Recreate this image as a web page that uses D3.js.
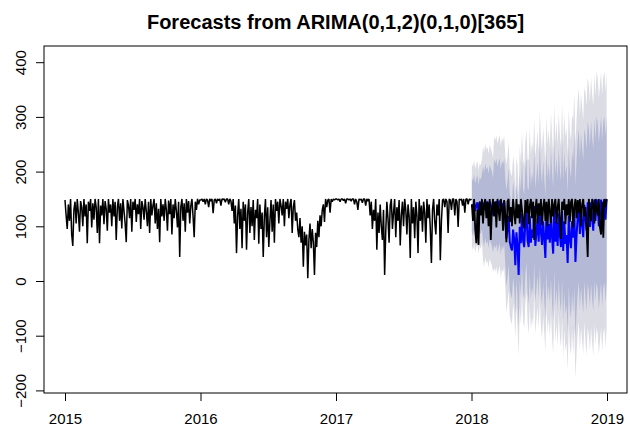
<!DOCTYPE html>
<html>
<head>
<meta charset="utf-8">
<script src="https://cdn.jsdelivr.net/npm/d3@7"></script>
<style>
  html, body { margin: 0; padding: 0; background: #ffffff; }
  svg { display: block; }
  text { font-family: "Liberation Sans", Arial, sans-serif; }
</style>
</head>
<body>
<svg id="chart" width="630" height="430"></svg>
<script>
// ---------------- DATA ----------------
const chartTitle = "Forecasts from ARIMA(0,1,2)(0,1,0)[365]";
const xTickYears = [2015, 2016, 2017, 2018, 2019];
const yTickValues = [-200, -100, 0, 100, 200, 300, 400];

// observed series 2015-01-01 .. 2018-01-01, one value every 3 days
const historyValues = [
  148,120,95,140,110,150,85,64,130,145,
  105,150,125,90,146,135,100,150,118,140,
  69,145,128,150,98,142,112,150,135,88,
  150,69,138,120,150,104,146,132,92,150,
  125,140,100,150,118,145,75,135,150,110,
  142,96,150,128,105,71,148,138,115,150,
  90,145,130,150,108,140,122,150,95,146,
  135,112,150,128,100,145,88,150,120,138,
  150,105,142,95,132,71,150,118,140,110,
  150,130,92,147,122,150,85,140,115,150,
  128,98,145,44,135,150,110,142,90,150,
  125,146,105,138,150,118,80,145,130,150,
  140,148,
  148,150,145,150,140,150,148,135,150,146,
  150,124,148,150,142,150,147,150,138,150,
  149,150,144,150,150,140,150,146,128,150,
  105,138,51,120,150,95,132,60,145,110,
  140,57,125,150,88,135,100,148,75,130,
  115,150,68,140,95,125,44,118,150,80,
  135,62,110,148,90,140,70,150,128,145,
  105,150,138,120,150,100,145,132,150,115,
  140,150,88,135,148,110,125,95,80,115,
  70,100,26,90,65,85,5,75,105,60,
  95,70,11,88,62,110,80,120,100,130,
  140,108,150,135,148,150,125,150,145,150,
  148,150,
  150,148,150,145,150,150,147,150,142,150,
  150,148,150,146,150,150,140,150,145,130,
  150,148,150,143,150,150,138,150,146,150,
  120,145,95,130,110,150,57,125,88,140,
  100,75,130,11,90,145,115,70,138,150,
  95,125,150,80,135,110,148,65,120,145,
  100,150,130,85,140,118,42,150,105,135,
  78,145,120,51,150,110,138,90,145,125,
  70,150,115,140,95,33,130,150,108,85,
  140,120,150,38,110,148,150,135,150,145,
  88,150,148,130,150,150,120,150,145,99,
  150,148,150,138,150,125,150,150,140,150,
  148,150
];

// point forecast for 2018, one value every 3 days
const forecastMean = [
  140,132,145,128,138,144,125,140,135,146,
  142,130,147,136,141,128,145,138,132,120,
  144,137,146,131,140,147,126,142,135,146,
  109,78,94,119,72,62,56,94,77,29,
  89,64,11,99,69,124,74,62,107,129,
  74,62,119,70,94,79,137,64,89,114,
  72,139,89,66,109,77,42,129,76,104,
  70,124,80,50,139,72,107,64,124,84,
  62,129,55,109,68,84,33,119,77,60,
  109,79,129,35,82,117,139,86,129,104,
  80,139,117,92,144,129,99,144,114,92,
  149,110,149,137,100,124,149,105,139,149,
  112,149
];

// actual 2018 values (black, over the forecast), one value every 3 days
const actual2018 = [
  140,110,150,95,69,130,66,145,120,150,
  105,138,150,115,145,100,150,75,132,150,
  118,145,98,150,128,110,150,135,92,148,
  120,71,145,150,108,135,100,150,125,104,
  150,115,140,105,150,130,110,96,148,125,
  150,104,138,150,115,145,75,130,150,105,
  142,120,150,102,135,150,110,145,100,150,
  128,106,150,118,140,150,105,135,150,112,
  77,145,130,150,104,140,120,150,108,145,
  150,98,135,150,115,148,125,150,100,140,
  150,118,135,95,44,150,128,110,150,140,
  105,150,132,120,150,98,85,145,79,150,
  135,150
];

// half-widths of the prediction intervals, per month of 2018
const pi80HalfWidth = [50, 68, 78, 88, 96, 104, 112, 120, 128, 140, 148, 152];
const pi95HalfWidth = [76, 104, 120, 135, 148, 160, 172, 184, 196, 214, 228, 234];

// ---------------- CHART ----------------
const svg = d3.select("#chart");
const box = { left: 44, right: 627, top: 46, bottom: 393 };

const x = d3.scaleLinear().domain([2015, 2019]).range([65, 607]);
const y = d3.scaleLinear().domain([-200, 400]).range([390.4, 62.2]);

const histPts = historyValues.map((v, i) => ({ t: 2015 + (i * 3) / 365, v }));
const fcPts = forecastMean.map((v, j) => {
  const m = Math.min(11, Math.floor((j * 3 + 1) / 30.42));
  return {
    t: 2018 + (j * 3 + 1) / 365, v,
    lo80: v - pi80HalfWidth[m], hi80: v + pi80HalfWidth[m],
    lo95: v - pi95HalfWidth[m], hi95: v + pi95HalfWidth[m]
  };
});
const actPts = actual2018.map((v, j) => ({ t: fcPts[j].t, v }));

svg.append("defs").append("clipPath").attr("id", "plotclip")
  .append("rect")
  .attr("x", box.left).attr("y", box.top)
  .attr("width", box.right - box.left).attr("height", box.bottom - box.top);

const g = svg.append("g").attr("clip-path", "url(#plotclip)");

g.append("path").datum(fcPts)
  .attr("fill", "#DCDCE4")
  .attr("d", d3.area().x(d => x(d.t)).y0(d => y(d.lo95)).y1(d => y(d.hi95)));
g.append("path").datum(fcPts)
  .attr("fill", "#B4B9D5")
  .attr("d", d3.area().x(d => x(d.t)).y0(d => y(d.lo80)).y1(d => y(d.hi80)));

g.append("path").datum(histPts)
  .attr("fill", "none").attr("stroke", "#000").attr("stroke-width", 1.5)
  .attr("stroke-linejoin", "bevel")
  .attr("d", d3.line().x(d => x(d.t)).y(d => y(d.v)));

g.append("path").datum(fcPts)
  .attr("fill", "none").attr("stroke", "#0000FF").attr("stroke-width", 2)
  .attr("d", d3.line().x(d => x(d.t)).y(d => y(d.v)));

g.append("path").datum(actPts)
  .attr("fill", "none").attr("stroke", "#000").attr("stroke-width", 1.8)
  .attr("d", d3.line().x(d => x(d.t)).y(d => y(d.v)));

// box
svg.append("rect")
  .attr("x", box.left).attr("y", box.top)
  .attr("width", box.right - box.left).attr("height", box.bottom - box.top)
  .attr("fill", "none").attr("stroke", "#000").attr("stroke-width", 1);

// x axis
const xAxis = svg.append("g")
  .attr("transform", `translate(0,${box.bottom})`)
  .call(d3.axisBottom(x).tickValues(xTickYears).tickFormat(d3.format("d")).tickSize(8).tickPadding(12));
xAxis.select(".domain").remove();
xAxis.selectAll("line").attr("stroke", "#000");
xAxis.selectAll("text").attr("font-size", 15).attr("fill", "#000")
  .attr("font-family", "Liberation Sans, Arial, sans-serif");

// y axis
const yAxis = svg.append("g")
  .attr("transform", `translate(${box.left},0)`)
  .call(d3.axisLeft(y).tickValues(yTickValues).tickFormat(d3.format("d")).tickSize(8));
yAxis.select(".domain").remove();
yAxis.selectAll("line").attr("stroke", "#000");
yAxis.selectAll("text")
  .attr("font-size", 15).attr("fill", "#000")
  .attr("font-family", "Liberation Sans, Arial, sans-serif")
  .attr("x", 0).attr("y", -18).attr("dy", 0)
  .attr("text-anchor", "middle")
  .attr("transform", "rotate(-90)");

// title
svg.append("text")
  .attr("x", (box.left + box.right) / 2).attr("y", 29)
  .attr("text-anchor", "middle")
  .attr("font-size", 20).attr("font-weight", "bold").attr("fill", "#000")
  .text(chartTitle);
</script>
</body>
</html>
